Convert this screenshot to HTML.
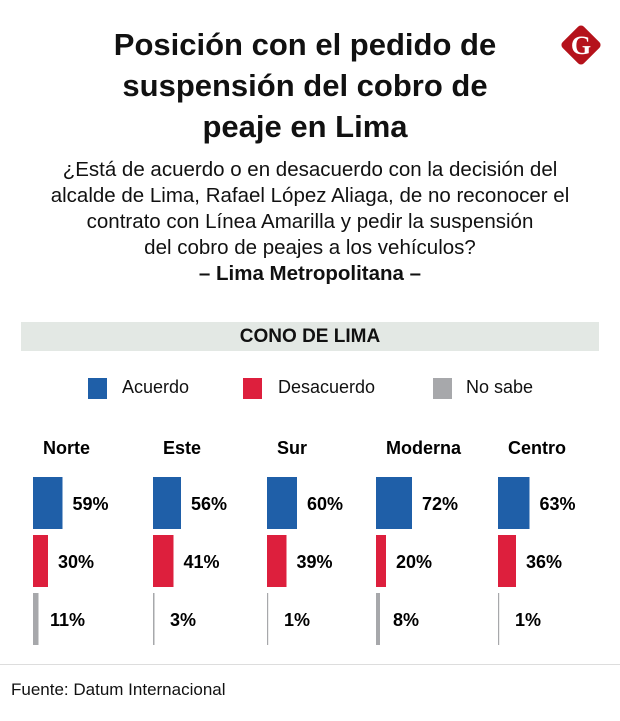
<!DOCTYPE html>
<html><head><meta charset="utf-8"><style>
body{margin:0;width:620px;height:721px;background:#fff;font-family:"Liberation Sans",sans-serif;position:relative;overflow:hidden;color:#111}
.t{position:absolute;left:0;width:620px;text-align:center}
</style></head><body>
<div class="t" style="top:24px;left:-5px;font-size:31px;font-weight:bold;line-height:41px">Posición con el pedido de<br>suspensión del cobro de<br>peaje en Lima</div>
<svg style="position:absolute;left:558px;top:22px" width="46" height="46" viewBox="0 0 46 46"><rect x="8" y="8" width="30" height="30" rx="4" transform="rotate(45 23 23)" fill="#b5121b"/><text x="23" y="32" text-anchor="middle" font-family="Liberation Serif" font-weight="bold" font-size="26" fill="#fff">G</text></svg>
<div class="t" style="top:157px;font-size:20.5px;line-height:26px">¿Está de acuerdo o en desacuerdo con la decisión del<br>alcalde de Lima, Rafael López Aliaga, de no reconocer el<br>contrato con Línea Amarilla y pedir la suspensión<br>del cobro de peajes a los vehículos?<br><b>– Lima Metropolitana –</b></div>
<div style="position:absolute;left:21px;top:322px;width:578px;height:29px;background:#e3e8e4;text-align:center;font-weight:bold;font-size:19px;line-height:29px">CONO DE LIMA</div>
<div style="position:absolute;top:376px;left:0;width:620px;height:24px;font-size:18px">
<div><span style="position:absolute;left:88px;top:2px;width:19px;height:21px;background:#1f5fa8"></span><span style="position:absolute;left:122px;top:1px">Acuerdo</span></div>
<div><span style="position:absolute;left:243px;top:2px;width:19px;height:21px;background:#dd1f3d"></span><span style="position:absolute;left:278px;top:1px">Desacuerdo</span></div>
<div><span style="position:absolute;left:433px;top:2px;width:19px;height:21px;background:#a7a8ab"></span><span style="position:absolute;left:466px;top:1px">No sabe</span></div>
</div>
<svg id="ch" style="position:absolute;left:0;top:0" width="620" height="721"></svg>
<div style="position:absolute;left:0;top:664px;width:620px;height:1px;background:#ddd"></div>
<div style="position:absolute;left:11px;top:680px;font-size:17px">Fuente: Datum Internacional</div>
<script>
const categories=["Norte","Este","Sur","Moderna","Centro"];
const acuerdo=[59,56,60,72,63];
const desacuerdo=[30,41,39,20,36];
const noSabe=[11,3,1,8,1];
const series=[acuerdo,desacuerdo,noSabe];
const colors=["#1f5fa8","#dd1f3d","#a7a8ab"];
const groupX=[33,153,267,376,498];
const rowY=[477,535,593];
const barH=52;
const w=v=>v*0.5;
const svg=document.getElementById('ch');
const NS='http://www.w3.org/2000/svg';
categories.forEach((c,i)=>{
 const t=document.createElementNS(NS,'text');
 
 
 t.setAttribute('x',groupX[i]+10);t.setAttribute('y',454);
 t.setAttribute('font-size','18');t.setAttribute('font-weight','bold');
 t.textContent=c;svg.appendChild(t);
 series.forEach((s,j)=>{
  const r=document.createElementNS(NS,'rect');
  
  
  r.setAttribute('x',groupX[i]);r.setAttribute('y',rowY[j]);
  r.setAttribute('width',Math.max(w(s[i]),1.2));r.setAttribute('height',barH);
  r.setAttribute('fill',colors[j]);svg.appendChild(r);
  const l=document.createElementNS(NS,'text');
  
  
  l.setAttribute('x',groupX[i]+Math.max(w(s[i])+10,17));l.setAttribute('y',rowY[j]+33);
  l.setAttribute('font-size','18');l.setAttribute('font-weight','bold');
  l.textContent=s[i]+'%';svg.appendChild(l);
 });
});
</script>
</body></html>
